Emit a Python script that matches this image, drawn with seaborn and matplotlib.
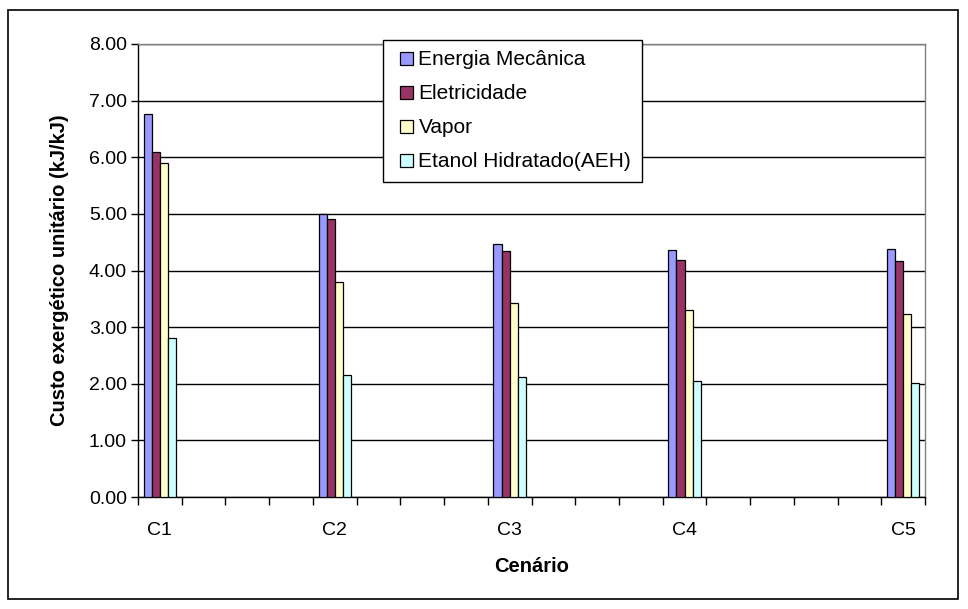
import matplotlib
matplotlib.use("Agg")
import matplotlib.pyplot as plt
from matplotlib.patches import Rectangle
from matplotlib.ticker import FixedLocator
from matplotlib.legend_handler import HandlerPatch
import seaborn as sns
import pandas as pd

# Scenario data: unit exergetic cost per product (kJ/kJ)
cenarios = ["C1", "C2", "C3", "C4", "C5"]
energia_mecanica = [6.77, 4.99, 4.46, 4.37, 4.38]
eletricidade = [6.10, 4.91, 4.35, 4.19, 4.16]
vapor = [5.90, 3.79, 3.43, 3.30, 3.24]
etanol_hidratado = [2.81, 2.16, 2.12, 2.05, 2.02]

series_names = ["Energia Mecânica", "Eletricidade", "Vapor", "Etanol Hidratado(AEH)"]
series_colors = ["#9999FF", "#993366", "#FFFFCC", "#CCFFFF"]

# Category axis: 18 slots, scenarios sit in slots 0, 4, 8, 12 and 17
slot_labels = ["C1", "", "", "", "C2", "", "", "", "C3", "", "", "", "C4", "", "", "", "", "C5"]
slot_keys = [lab if lab else f"_blank{i}" for i, lab in enumerate(slot_labels)]

rows = []
for name, vals in zip(series_names,
                      [energia_mecanica, eletricidade, vapor, etanol_hidratado]):
    for c, v in zip(cenarios, vals):
        rows.append({"Cenário": c, "Produto": name, "Custo": v})
df = pd.DataFrame(rows)

sns.set_theme(style="white")
plt.rcParams["font.family"] = ["Liberation Sans", "DejaVu Sans"]
plt.rcParams["text.color"] = "black"
plt.rcParams["axes.labelcolor"] = "black"
plt.rcParams["xtick.color"] = "black"
plt.rcParams["ytick.color"] = "black"

fig = plt.figure(figsize=(9.68, 6.09), dpi=100)
ax = fig.add_axes([138 / 968, 1 - 497 / 609, (925 - 138) / 968, (497 - 44) / 609])

sns.barplot(data=df, x="Cenário", y="Custo", hue="Produto", order=slot_keys,
            hue_order=series_names, palette=series_colors, width=0.74,
            errorbar=None, edgecolor="black", linewidth=0.9, saturation=1,
            ax=ax, zorder=3)

# y axis
ax.set_ylim(0, 8)
ax.set_yticks([i for i in range(9)])
ax.set_yticklabels([f"{i:.2f}" for i in range(9)], fontsize=14)
ax.yaxis.grid(True, color="black", linewidth=1.0, zorder=0)
ax.set_axisbelow(True)
ax.tick_params(axis="y", direction="out", length=5, width=1, color="black",
               left=True, pad=3)

# x axis: labels centred in slots, ticks on slot boundaries
ax.set_xlim(-0.5, len(slot_keys) - 0.5)
ax.set_xticks(range(len(slot_keys)))
ax.set_xticklabels(slot_labels, fontsize=14)
ax.tick_params(axis="x", which="major", length=0, pad=18)
ax.xaxis.set_minor_locator(FixedLocator([i - 0.5 for i in range(len(slot_keys) + 1)]))
ax.tick_params(axis="x", which="minor", direction="out", length=6, width=1,
               color="black", bottom=True)

ax.set_xlabel("Cenário", fontsize=14.5, fontweight="bold", labelpad=13)
ax.set_ylabel("Custo exergético unitário (kJ/kJ)", fontsize=14.5,
              fontweight="bold", labelpad=14)

for side in ["left", "bottom"]:
    ax.spines[side].set_color("black")
    ax.spines[side].set_linewidth(1.0)
for side in ["top", "right"]:
    ax.spines[side].set_color("#808080")
    ax.spines[side].set_linewidth(1.0)
    ax.spines[side].set_visible(True)

ax.get_legend().remove()


def square_key(legend, orig_handle, xdescent, ydescent, width, height, fontsize):
    # small square key, right-aligned inside the handle box
    s = 0.62 * fontsize
    return Rectangle((width - xdescent - s, -ydescent + (height - s) / 2), s, s)


handles = [Rectangle((0, 0), 1, 1, facecolor=c, edgecolor="black", linewidth=0.9)
           for c in series_colors]
leg = fig.legend(handles, series_names, loc="upper left",
                 bbox_to_anchor=(383 / 968, 1 - 40 / 609),
                 bbox_transform=fig.transFigure, fontsize=15, frameon=True,
                 fancybox=False, edgecolor="black", framealpha=1,
                 handler_map={Rectangle: HandlerPatch(patch_func=square_key)},
                 handlelength=0.95, handleheight=0.7, handletextpad=0.25,
                 labelspacing=0.72, borderpad=0.5, borderaxespad=0)
leg.get_frame().set_linewidth(1.0)

# outer chart border
fig.patches.append(Rectangle((8 / 968, 1 - 599 / 609), 950 / 968, 589 / 609,
                             transform=fig.transFigure, fill=False,
                             edgecolor="black", linewidth=1.2))

fig.savefig("out.png", dpi=100)
